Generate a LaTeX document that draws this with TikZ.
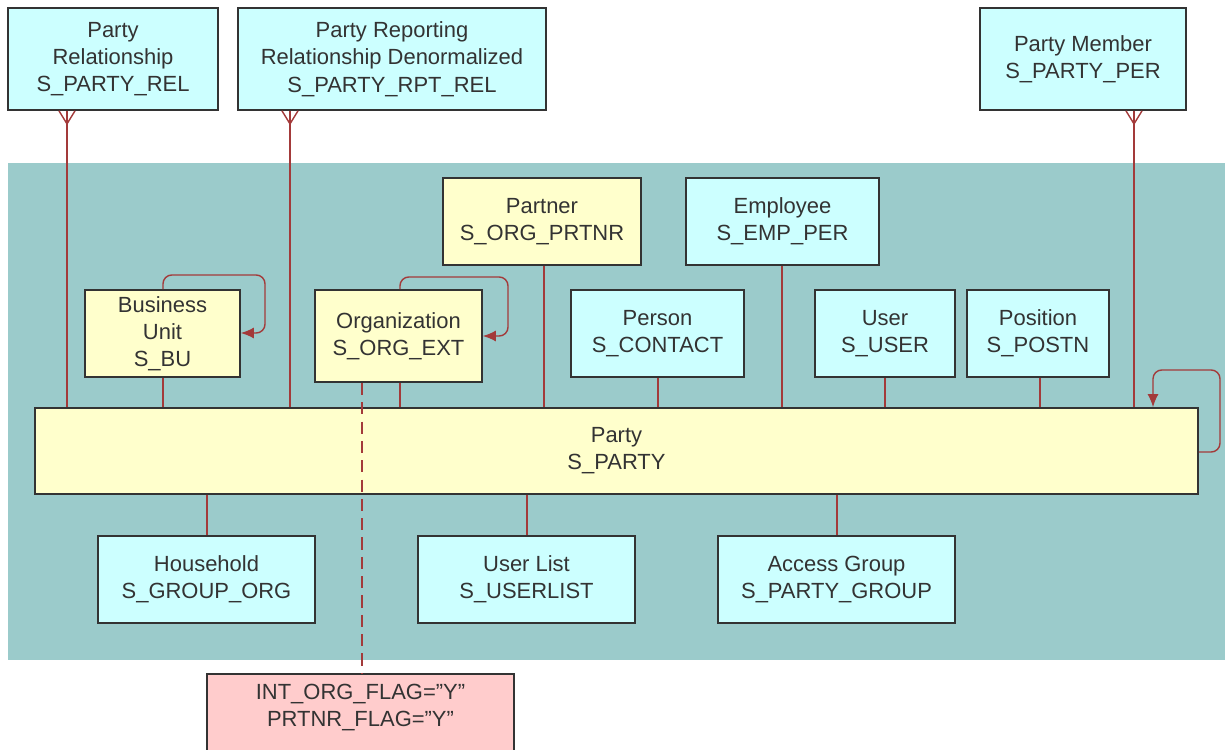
\documentclass[tikz,border=0pt]{standalone}
\usepackage{fontspec}
\setmainfont{Liberation Sans}
\usepackage{tikz}
\usetikzlibrary{arrows.meta}
\tikzset{>={Latex[length=2.6mm, width=2.2mm]}}
\definecolor{bgteal}{HTML}{9BCBCB}
\definecolor{tcyan}{HTML}{CCFFFF}
\definecolor{tyellow}{HTML}{FFFFCC}
\definecolor{tpink}{HTML}{FFCCCC}
\definecolor{linkred}{HTML}{A33A3A}
\definecolor{edgegray}{HTML}{333333}
\tikzset{
    tbl/.style={draw=edgegray, line width=1pt, align=center, text=edgegray,
        font=\fontsize{12.5}{15.5}\selectfont, minimum height=1.74cm},
    cyantbl/.style={tbl, fill=tcyan},
    yellowtbl/.style={tbl, fill=tyellow},
    link/.style={draw=linkred, line width=0.8pt},
    selfref/.style={link, ->, rounded corners=5pt},
}
\newcommand{\crowsfoot}[1]{\draw[link](#1) ++(0, 13) -- ++(-8, -13)(#1) ++(0, 13) -- ++(8, -13);}

\begin{document}
\begin{tikzpicture}[x=0.02cm, y=-0.02cm]
    \useasboundingbox (0, 0) rectangle (1225, 750);
    \fill[bgteal](8, 163)rectangle(1225, 660);
    % tables outside the party group
    \node[cyantbl, minimum width=4.2cm, minimum height=2.04cm] (rel) at (113, 59) {Party\\Relationship\\S\_PARTY\_REL};
    \node[cyantbl, minimum width=6.16cm, minimum height=2.04cm] (rpt) at (392, 59) {Party Reporting\\Relationship Denormalized\\S\_PARTY\_RPT\_REL};
    \node[cyantbl, minimum width=4.12cm, minimum height=2.04cm] (mem) at (1083, 59) {Party Member\\S\_PARTY\_PER};
    % subtypes above party
    \node[yellowtbl, minimum width=3.96cm] (prtnr) at (542, 221.5) {Partner\\S\_ORG\_PRTNR};
    \node[cyantbl, minimum width=3.86cm] (emp) at (782.5, 221.5) {Employee\\S\_EMP\_PER};
    \node[yellowtbl, minimum width=3.1cm] (bu) at (162.5, 333.5) {Business\\Unit\\S\_BU};
    \node[yellowtbl, minimum width=3.34cm, minimum height=1.84cm] (org) at (398.5, 336) {Organization\\S\_ORG\_EXT};
    \node[cyantbl, minimum width=3.46cm] (person) at (657.5, 333.5) {Person\\S\_CONTACT};
    \node[cyantbl, minimum width=2.8cm] (user) at (885, 333.5) {User\\S\_USER};
    \node[cyantbl, minimum width=2.84cm] (postn) at (1038, 333.5) {Position\\S\_POSTN};
    \node[yellowtbl, minimum width=23.26cm, minimum height=1.72cm] (party) at (616.5, 451) {Party\\S\_PARTY};
    % subtypes below party
    \node[cyantbl, minimum width=4.34cm] (hh) at (206.5, 579.5) {Household\\S\_GROUP\_ORG};
    \node[cyantbl, minimum width=4.34cm] (ulist) at (526.5, 579.5) {User List\\S\_USERLIST};
    \node[cyantbl, minimum width=4.74cm] (grp) at (836.5, 579.5) {Access Group\\S\_PARTY\_GROUP};
    \node[tbl, fill=tpink, minimum width=6.14cm, anchor=north, inner ysep=0.2cm, text depth=1cm] (flag) at (360.5, 673) {INT\_ORG\_FLAG="Y"\\PRTNR\_FLAG="Y"};
    % many-to-one links
    \draw[link](rel.south -| 67,0) -- (party.north -| 67,0);
    \crowsfoot{rel.south -| 67,0}
    \draw[link](rpt.south -| 290,0) -- (party.north -| 290,0);
    \crowsfoot{rpt.south -| 290,0}
    \draw[link](mem.south -| 1134,0) -- (party.north -| 1134,0);
    \crowsfoot{mem.south -| 1134,0}
    % subtype links
    \draw[link](bu.south -| 163,0) -- (party.north -| 163,0);
    \draw[link](org.south -| 400,0) -- (party.north -| 400,0);
    \draw[link](prtnr.south -| 544,0) -- (party.north -| 544,0);
    \draw[link](person.south -| 658,0) -- (party.north -| 658,0);
    \draw[link](emp.south -| 782,0) -- (party.north -| 782,0);
    \draw[link](user.south -| 885,0) -- (party.north -| 885,0);
    \draw[link](postn.south -| 1040,0) -- (party.north -| 1040,0);
    \draw[link](party.south -| 207,0) -- (hh.north -| 207,0);
    \draw[link](party.south -| 527,0) -- (ulist.north -| 527,0);
    \draw[link](party.south -| 837,0) -- (grp.north -| 837,0);
    % self references
    \draw[selfref](bu.north -| 163,0) |- (265, 275) |- (bu.east |- 0,333);
    \draw[selfref](org.north -| 400,0) |- (508, 277) |- (org.east |- 0,336);
    \draw[selfref](party.east |- 0,452) -| (1220, 370) -| (party.north -| 1153,0);
    \draw[link, dash pattern=on 7pt off 4pt](org.south -| 362,0) -- (flag.north -| 362,0);
\end{tikzpicture}
\end{document}
